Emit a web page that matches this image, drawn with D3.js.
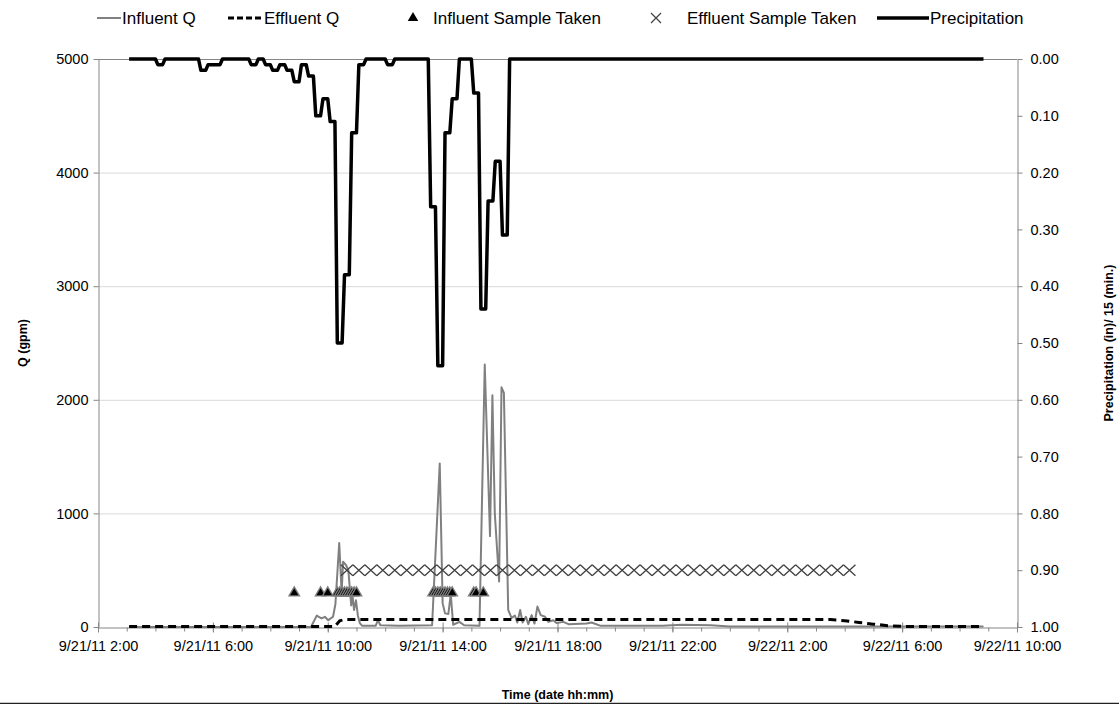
<!DOCTYPE html>
<html>
<head>
<meta charset="utf-8">
<script src="https://cdn.jsdelivr.net/npm/d3@7"></script>
<style>
  body { margin: 0; background: #fff; }
  text { font-family: "Liberation Sans", Arial, sans-serif; fill: #000; }
  .axis path, .axis line { stroke: #868686; }
  .axis text { font-size: 14.5px; }
  .title { font-size: 12.5px; font-weight: bold; }
  .legend text { font-size: 17px; }
</style>
</head>
<body>
<script>
// ---- data ----
const qTicks = [0, 1000, 2000, 3000, 4000, 5000];
const precipTicks = [0, 0.1, 0.2, 0.3, 0.4, 0.5, 0.6, 0.7, 0.8, 0.9, 1.0];
const timeTicks = ["9/21/11 2:00", "9/21/11 6:00", "9/21/11 10:00", "9/21/11 14:00", "9/21/11 18:00",
    "9/21/11 22:00", "9/22/11 2:00", "9/22/11 6:00", "9/22/11 10:00"];

// flow entering the system (gpm)
const influentQ = [
    ["9/21/11 3:05", 0], ["9/21/11 9:25", 0], ["9/21/11 9:37", 100], ["9/21/11 9:47", 75],
    ["9/21/11 9:54", 90], ["9/21/11 10:01", 60], ["9/21/11 10:11", 90], ["9/21/11 10:16", 200],
    ["9/21/11 10:24", 740], ["9/21/11 10:29", 300], ["9/21/11 10:32", 575], ["9/21/11 10:38", 546],
    ["9/21/11 10:43", 500], ["9/21/11 10:49", 190], ["9/21/11 10:52", 265], ["9/21/11 10:55", 150],
    ["9/21/11 10:59", 235], ["9/21/11 11:03", 100], ["9/21/11 11:07", 35], ["9/21/11 11:12", 10],
    ["9/21/11 11:40", 10], ["9/21/11 11:45", 60], ["9/21/11 11:50", 15], ["9/21/11 12:30", 10],
    ["9/21/11 13:38", 15], ["9/21/11 13:54", 1440], ["9/21/11 14:00", 210], ["9/21/11 14:05", 120],
    ["9/21/11 14:12", 115], ["9/21/11 14:17", 290], ["9/21/11 14:22", 20], ["9/21/11 14:35", 45],
    ["9/21/11 14:45", 15], ["9/21/11 15:17", 10], ["9/21/11 15:28", 2310], ["9/21/11 15:39", 800],
    ["9/21/11 15:44", 2040], ["9/21/11 15:49", 1000], ["9/21/11 15:58", 400], ["9/21/11 16:03", 2110],
    ["9/21/11 16:08", 2060], ["9/21/11 16:17", 150], ["9/21/11 16:24", 80], ["9/21/11 16:31", 100],
    ["9/21/11 16:36", 40], ["9/21/11 16:42", 150], ["9/21/11 16:47", 40], ["9/21/11 16:54", 90],
    ["9/21/11 16:59", 25], ["9/21/11 17:06", 105], ["9/21/11 17:12", 30], ["9/21/11 17:18", 180],
    ["9/21/11 17:25", 105], ["9/21/11 17:34", 90], ["9/21/11 17:41", 45], ["9/21/11 17:51", 60],
    ["9/21/11 17:58", 35], ["9/21/11 18:12", 45], ["9/21/11 18:23", 25], ["9/21/11 19:01", 30],
    ["9/21/11 19:11", 40], ["9/21/11 19:29", 12], ["9/21/11 21:40", 10], ["9/21/11 22:20", 20],
    ["9/21/11 23:20", 15], ["9/22/11 0:00", 5], ["9/22/11 8:50", 5]
];

// flow leaving the system (gpm)
const effluentQ = [
    ["9/21/11 3:05", 5], ["9/21/11 10:15", 5], ["9/21/11 10:25", 55], ["9/21/11 10:35", 65],
    ["9/22/11 3:30", 65], ["9/22/11 4:00", 55], ["9/22/11 4:30", 40], ["9/22/11 5:00", 25],
    ["9/22/11 5:30", 12], ["9/22/11 6:00", 5], ["9/22/11 8:50", 5]
];

// autosampler hits, plotted at a fixed height on the Q axis
const influentSampleQ = 300;
const influentSamples = [
    "9/21/11 8:50", "9/21/11 9:45", "9/21/11 10:00",
    "9/21/11 10:20", "9/21/11 10:25", "9/21/11 10:30", "9/21/11 10:35", "9/21/11 10:40",
    "9/21/11 10:45", "9/21/11 10:50", "9/21/11 10:55", "9/21/11 11:00",
    "9/21/11 13:40", "9/21/11 13:45", "9/21/11 13:50", "9/21/11 13:55", "9/21/11 14:00",
    "9/21/11 14:05", "9/21/11 14:10", "9/21/11 14:15", "9/21/11 14:20",
    "9/21/11 15:05", "9/21/11 15:10", "9/21/11 15:25"
];
const effluentSampleQ = 500;
const effluentSamples = [
    "9/21/11 10:40", "9/21/11 11:05", "9/21/11 11:30", "9/21/11 11:55", "9/21/11 12:20",
    "9/21/11 12:45", "9/21/11 13:10", "9/21/11 13:35", "9/21/11 14:00", "9/21/11 14:25",
    "9/21/11 14:50", "9/21/11 15:15", "9/21/11 15:40", "9/21/11 16:05", "9/21/11 16:30",
    "9/21/11 16:55", "9/21/11 17:20", "9/21/11 17:45", "9/21/11 18:10", "9/21/11 18:35",
    "9/21/11 19:00", "9/21/11 19:25", "9/21/11 19:50", "9/21/11 20:15", "9/21/11 20:40",
    "9/21/11 21:05", "9/21/11 21:30", "9/21/11 21:55", "9/21/11 22:20", "9/21/11 22:45",
    "9/21/11 23:10", "9/21/11 23:35", "9/22/11 0:00", "9/22/11 0:25", "9/22/11 0:50",
    "9/22/11 1:15", "9/22/11 1:40", "9/22/11 2:05", "9/22/11 2:30", "9/22/11 2:55",
    "9/22/11 3:20", "9/22/11 3:45", "9/22/11 4:10"
];

// rainfall per 15 minute interval (in), only the logged steps
const precipitation = [
    ["9/21/11 3:05", 0], ["9/21/11 3:50", 0], ["9/21/11 4:05", 0.01], ["9/21/11 4:20", 0],
    ["9/21/11 5:20", 0], ["9/21/11 5:35", 0.02], ["9/21/11 5:50", 0.01], ["9/21/11 6:05", 0.01],
    ["9/21/11 6:20", 0], ["9/21/11 7:05", 0], ["9/21/11 7:20", 0.01], ["9/21/11 7:35", 0],
    ["9/21/11 7:50", 0.01], ["9/21/11 8:05", 0.02], ["9/21/11 8:20", 0.01], ["9/21/11 8:35", 0.02],
    ["9/21/11 8:50", 0.04], ["9/21/11 9:05", 0.01], ["9/21/11 9:20", 0.03], ["9/21/11 9:35", 0.10],
    ["9/21/11 9:50", 0.07], ["9/21/11 10:05", 0.11], ["9/21/11 10:20", 0.50], ["9/21/11 10:35", 0.38],
    ["9/21/11 10:50", 0.13], ["9/21/11 11:05", 0.01], ["9/21/11 11:20", 0], ["9/21/11 11:50", 0],
    ["9/21/11 12:05", 0.01], ["9/21/11 12:20", 0], ["9/21/11 13:20", 0], ["9/21/11 13:35", 0.26],
    ["9/21/11 13:50", 0.54], ["9/21/11 14:05", 0.13], ["9/21/11 14:20", 0.07], ["9/21/11 14:35", 0],
    ["9/21/11 14:50", 0], ["9/21/11 15:05", 0.06], ["9/21/11 15:20", 0.44], ["9/21/11 15:35", 0.25],
    ["9/21/11 15:50", 0.18], ["9/21/11 16:05", 0.31], ["9/21/11 16:20", 0], ["9/22/11 8:50", 0]
];

// ---- layout ----
const SCREEN = { width: 1119, height: 704, left: 98, right: 1017, top: 59, bottom: 627 };

const parseTime = d3.timeParse("%m/%d/%y %H:%M");
const formatTime = d3.timeFormat("%-m/%-d/%y %-H:%M");

const x = d3.scaleTime()
    .domain([parseTime(timeTicks[0]), parseTime(timeTicks[timeTicks.length - 1])])
    .range([SCREEN.left, SCREEN.right]);
const yQ = d3.scaleLinear().domain([0, 5000]).range([SCREEN.bottom, SCREEN.top]);
const yP = d3.scaleLinear().domain([0, 1]).range([SCREEN.top, SCREEN.bottom]); // reversed axis

const svg = d3.select("body").append("svg")
    .attr("width", SCREEN.width)
    .attr("height", SCREEN.height);

// gridlines (the top one is darker, like the plot frame)
svg.append("g").selectAll("line")
    .data(qTicks.slice(1))
    .join("line")
    .attr("x1", SCREEN.left).attr("x2", SCREEN.right)
    .attr("y1", d => yQ(d) + 0.5).attr("y2", d => yQ(d) + 0.5)
    .attr("stroke", d => d === 5000 ? "#868686" : "#d9d9d9");

// axes
const leftAxis = svg.append("g")
    .attr("class", "axis")
    .attr("transform", `translate(${SCREEN.left + 0.5},0)`)
    .call(d3.axisLeft(yQ).tickValues(qTicks).tickFormat(d3.format("d")).tickSize(5).tickPadding(5).tickSizeOuter(0));

const rightAxis = svg.append("g")
    .attr("class", "axis")
    .attr("transform", `translate(${SCREEN.right + 0.5},0)`)
    .call(d3.axisRight(yP).tickValues(precipTicks).tickFormat(d3.format(".2f")).tickSize(5).tickPadding(8).tickSizeOuter(0));

const hourTicks = d3.timeHour.range(x.domain()[0], d3.timeMinute.offset(x.domain()[1], 1));
svg.append("g")
    .attr("class", "axis")
    .attr("transform", `translate(0,${SCREEN.bottom + 0.5})`)
    .call(d3.axisBottom(x).tickValues(hourTicks).tickFormat("").tickSize(4).tickSizeOuter(0));

const bottomAxis = svg.append("g")
    .attr("class", "axis")
    .attr("transform", `translate(0,${SCREEN.bottom + 0.5})`)
    .call(d3.axisBottom(x).tickValues(timeTicks.map(parseTime)).tickFormat(formatTime).tickSize(5).tickPadding(8).tickSizeOuter(0));
bottomAxis.selectAll(".tick line").attr("y1", -5);
bottomAxis.select(".domain").remove();

[leftAxis, rightAxis, bottomAxis].forEach(g => g.selectAll("text").attr("fill", "#000"));

// axis titles
svg.append("text")
    .attr("class", "title")
    .attr("transform", `translate(27,${(SCREEN.top + SCREEN.bottom) / 2}) rotate(-90)`)
    .attr("text-anchor", "middle")
    .text("Q (gpm)");

svg.append("text")
    .attr("class", "title")
    .attr("transform", `translate(1113,${(SCREEN.top + SCREEN.bottom) / 2}) rotate(-90)`)
    .attr("text-anchor", "middle")
    .text("Precipitation (in)/ 15 (min.)");

svg.append("text")
    .attr("class", "title")
    .attr("x", (SCREEN.left + SCREEN.right) / 2)
    .attr("y", 699)
    .attr("text-anchor", "middle")
    .text("Time (date hh:mm)");

svg.append("line")
    .attr("x1", 0).attr("x2", SCREEN.width)
    .attr("y1", 703.5).attr("y2", 703.5)
    .attr("stroke", "#222")
    .attr("stroke-width", 1.5);

// precipitation is logged per 15 minutes: hold each value, then ramp into the next one
const curveHold = context => {
    let prev = null;
    return {
        areaStart() {}, areaEnd() {},
        lineStart() { prev = null; },
        lineEnd() {},
        point(px, py) {
            if (!prev) context.moveTo(px, py);
            else {
                context.lineTo(prev[0] + (px - prev[0]) * 2 / 3, prev[1]);
                context.lineTo(px, py);
            }
            prev = [px, py];
        }
    };
};

const qLine = d3.line().x(d => x(parseTime(d[0]))).y(d => yQ(d[1]));

svg.append("path")
    .datum(influentQ)
    .attr("fill", "none")
    .attr("stroke", "#808080")
    .attr("stroke-width", 2)
    .attr("stroke-linejoin", "round")
    .attr("d", qLine);

svg.append("path")
    .datum(effluentQ)
    .attr("fill", "none")
    .attr("stroke", "#000")
    .attr("stroke-width", 3)
    .attr("stroke-dasharray", "8,5")
    .attr("d", qLine);

const triangle = d3.symbol().type(d3.symbolTriangle).size(48);

svg.append("g").selectAll("path")
    .data(influentSamples)
    .join("path")
    .attr("transform", d => `translate(${x(parseTime(d))},${yQ(influentSampleQ)})`)
    .attr("d", triangle)
    .attr("fill", "#000")
    .attr("stroke", "#7f7f7f")
    .attr("stroke-width", 1.3);

const cross = "M-6,-5.5L6,5.5M-6,5.5L6,-5.5";
svg.append("g").selectAll("path")
    .data(effluentSamples)
    .join("path")
    .attr("transform", d => `translate(${x(parseTime(d))},${yQ(effluentSampleQ)})`)
    .attr("d", cross)
    .attr("fill", "none")
    .attr("stroke", "#404040")
    .attr("stroke-width", 1.3);

svg.append("path")
    .datum(precipitation)
    .attr("fill", "none")
    .attr("stroke", "#000")
    .attr("stroke-width", 3.5)
    .attr("stroke-linejoin", "round")
    .attr("d", d3.line().curve(curveHold).x(d => x(parseTime(d[0]))).y(d => yP(d[1])));

// legend
const legend = svg.append("g").attr("class", "legend");
const legendY = 18;
const legendItems = [
    { label: "Influent Q", x: 97, kind: "line", len: 24, stroke: "#808080", width: 2 },
    { label: "Effluent Q", x: 228, kind: "line", len: 35, stroke: "#000", width: 3, dash: "6,3" },
    { label: "Influent Sample Taken", x: 407, kind: "tri", len: 25 },
    { label: "Effluent Sample Taken", x: 650, kind: "cross", len: 36 },
    { label: "Precipitation", x: 877, kind: "line", len: 52, stroke: "#000", width: 3.5 }
];
legendItems.forEach(item => {
    if (item.kind === "line") {
        legend.append("line")
            .attr("x1", item.x).attr("x2", item.x + item.len)
            .attr("y1", legendY).attr("y2", legendY)
            .attr("stroke", item.stroke)
            .attr("stroke-width", item.width)
            .attr("stroke-dasharray", item.dash || null);
    } else if (item.kind === "tri") {
        legend.append("path")
            .attr("transform", `translate(${item.x + 6},${legendY})`)
            .attr("d", triangle)
            .attr("fill", "#000");
    } else {
        legend.append("path")
            .attr("transform", `translate(${item.x + 6},${legendY})`)
            .attr("d", "M-5,-5L5,5M-5,5L5,-5")
            .attr("stroke", "#404040")
            .attr("stroke-width", 1.2);
    }
    legend.append("text")
        .attr("x", item.x + item.len + 1)
        .attr("y", legendY + 6)
        .text(item.label);
});
</script>
</body>
</html>
